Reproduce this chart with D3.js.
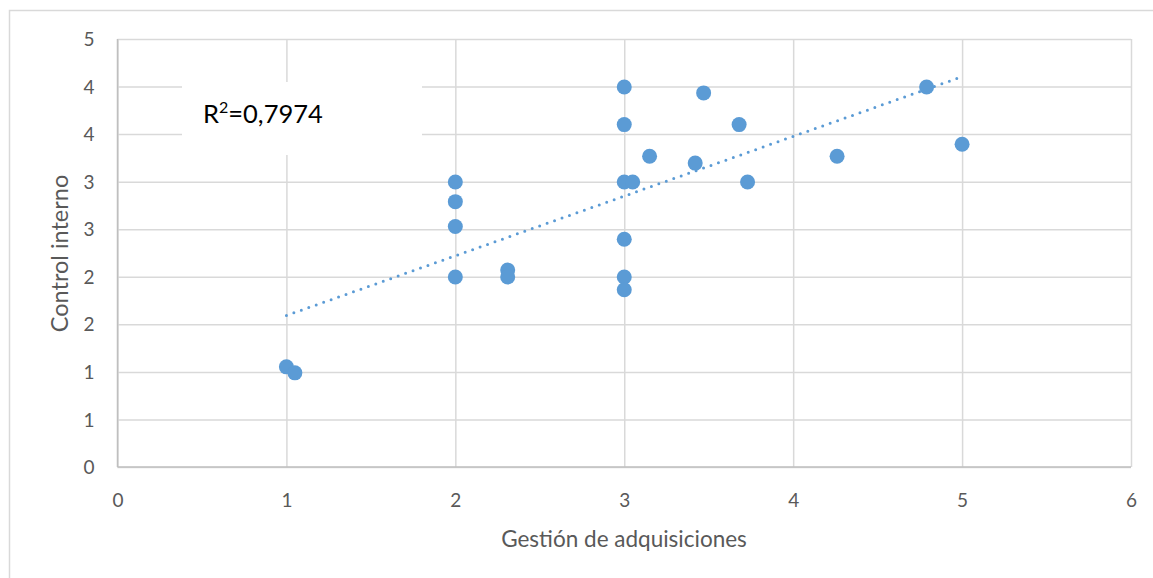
<!DOCTYPE html>
<html>
<head>
<meta charset="utf-8">
<script src="https://cdn.jsdelivr.net/npm/d3@7"></script>
<style>
html,body{margin:0;padding:0;background:#fff;}
svg{display:block;font-family:Lato,"Open Sans",sans-serif;}
</style>
</head>
<body>
<svg id="chart" width="1153" height="578"></svg>
<script>
// Data
const xValues = [1, 1.05, 2, 2, 2, 2, 2.31, 2.31, 3, 3, 3, 3.05, 3, 3, 3, 3.15, 3.42, 3.47, 3.68, 3.73, 4.26, 4.79, 5];
const yValues = [1.17, 1.10, 3.33, 3.10, 2.81, 2.22, 2.30, 2.22, 4.44, 4.00, 3.33, 3.33, 2.66, 2.22, 2.07, 3.63, 3.55, 4.37, 4.00, 3.33, 3.63, 4.44, 3.77];
const trendX = [1, 5];
const trendY = [1.77, 4.56];
const xTickLabels = ["0", "1", "2", "3", "4", "5", "6"];
const yTickLabels = ["0", "1", "1", "2", "2", "3", "3", "4", "4", "5"];
const rSquaredText = "0,7974";
const xTitle = "Gestión de adquisiciones";
const yTitle = "Control interno";

const svg = d3.select("#chart");
const plot = {left: 117.5, right: 1131, top: 39, bottom: 467};

const x = d3.scaleLinear().domain([0, 6]).range([plot.left, plot.right]);
const y = d3.scaleLinear().domain([0, 5]).range([plot.bottom, plot.top]);

const gridColor = "#d9d9d9";
const axisColor = "#bfbfbf";
const textColor = "#595959";

// Outer chart border
svg.append("rect")
  .attr("x", 9.5).attr("y", 10.5)
  .attr("width", 1200).attr("height", 700)
  .attr("fill", "#fff").attr("stroke", gridColor).attr("stroke-width", 1.5);

const xTickVals = xTickLabels.map((d, i) => i);
const yTickVals = yTickLabels.map((d, i) => i * 5 / (yTickLabels.length - 1));

// Horizontal gridlines
const yAxisGrid = d3.axisLeft(y).tickValues(yTickVals).tickSize(-(plot.right - plot.left)).tickFormat("");
svg.append("g").attr("transform", `translate(${plot.left},0)`).call(yAxisGrid)
  .call(g => g.select(".domain").remove())
  .call(g => g.selectAll("line").attr("stroke", gridColor).attr("stroke-width", 1.5));

// Vertical gridlines
const xAxisGrid = d3.axisBottom(x).tickValues(xTickVals).tickSize(-(plot.bottom - plot.top)).tickFormat("");
svg.append("g").attr("transform", `translate(0,${plot.bottom})`).call(xAxisGrid)
  .call(g => g.select(".domain").remove())
  .call(g => g.selectAll("line").attr("stroke", gridColor).attr("stroke-width", 1.5));

// Axis lines
svg.append("line").attr("x1", plot.left).attr("x2", plot.right).attr("y1", plot.bottom).attr("y2", plot.bottom)
  .attr("stroke", axisColor).attr("stroke-width", 1.5);
svg.append("line").attr("x1", plot.left).attr("x2", plot.left).attr("y1", plot.top).attr("y2", plot.bottom)
  .attr("stroke", axisColor).attr("stroke-width", 1.5);

// Tick labels
const xAxis = d3.axisBottom(x).tickValues(xTickVals).tickSize(0).tickPadding(0)
  .tickFormat((d, i) => xTickLabels[i]);
svg.append("g").attr("transform", `translate(0,${plot.bottom + 33})`).call(xAxis)
  .call(g => g.select(".domain").remove())
  .call(g => g.selectAll("text").attr("fill", textColor).attr("font-size", 19).attr("font-family", "Lato, sans-serif").attr("dy", "0.35em"));

const yAxis = d3.axisLeft(y).tickValues(yTickVals).tickSize(0).tickPadding(0)
  .tickFormat((d, i) => yTickLabels[i]);
svg.append("g").attr("transform", `translate(${plot.left - 23},0)`).call(yAxis)
  .call(g => g.select(".domain").remove())
  .call(g => g.selectAll("text").attr("fill", textColor).attr("font-size", 19).attr("font-family", "Lato, sans-serif").attr("dy", "0.35em"));

// Trendline
svg.append("path")
  .datum(trendX.map((d, i) => [d, trendY[i]]))
  .attr("d", d3.line().x(d => x(d[0])).y(d => y(d[1])))
  .attr("fill", "none")
  .attr("stroke", "#5b9bd5")
  .attr("stroke-width", 3)
  .attr("stroke-linecap", "round")
  .attr("stroke-dasharray", "0 7.9");

// Points
svg.append("g").selectAll("circle")
  .data(xValues.map((d, i) => [d, yValues[i]]))
  .join("circle")
  .attr("cx", d => x(d[0]))
  .attr("cy", d => y(d[1]))
  .attr("r", 7.5)
  .attr("fill", "#5b9bd5");

// R² label box
const rBox = svg.append("g");
rBox.append("rect").attr("x", 182).attr("y", 82).attr("width", 240).attr("height", 73).attr("fill", "#fff");
const rText = rBox.append("text").attr("x", 203).attr("y", 123)
  .attr("font-size", 25.5).attr("fill", "#000").attr("font-family", "Lato, sans-serif");
rText.append("tspan").text("R");
rText.append("tspan").attr("font-size", 16).attr("dy", -10).text("2");
rText.append("tspan").attr("dy", 10).text("=" + rSquaredText);

// Axis titles
svg.append("text").attr("x", 624).attr("y", 547).attr("text-anchor", "middle")
  .attr("font-size", 22.5).attr("fill", textColor).text(xTitle);
svg.append("text").attr("transform", "translate(68,253.5) rotate(-90)").attr("text-anchor", "middle")
  .attr("font-size", 23.5).attr("fill", textColor).text(yTitle);
</script>
</body>
</html>
